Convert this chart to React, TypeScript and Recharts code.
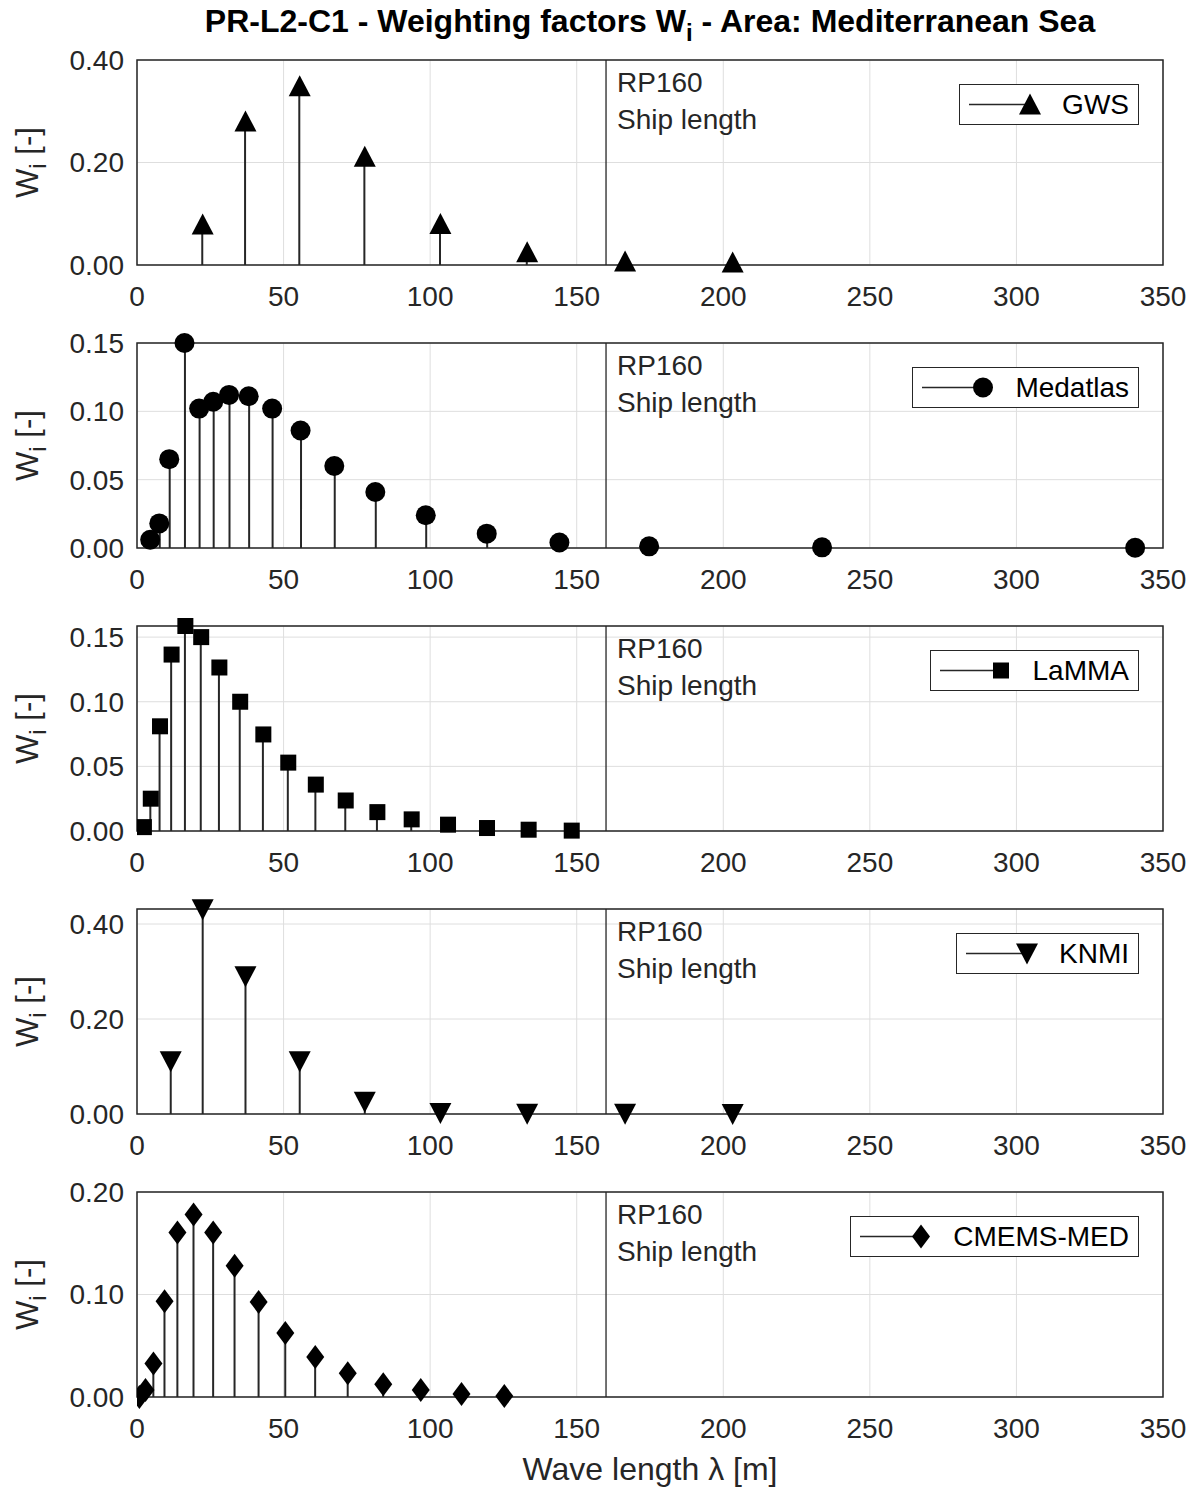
import React from "react";
import {
  ComposedChart,
  Bar,
  Scatter,
  XAxis,
  YAxis,
  CartesianGrid,
  ReferenceLine,
  ReferenceArea,
} from "recharts";

// wave lengths [m] and weighting factors per data source
const GWS_X = [22.4, 37.0, 55.5, 77.7, 103.5, 133.1, 166.5, 203.2];
const GWS_W = [0.079, 0.28, 0.349, 0.211, 0.08, 0.025, 0.007, 0.005];

const MED_X = [4.5, 7.6, 11.0, 16.2, 21.2, 26.0, 31.4, 38.1, 46.1, 55.8, 67.3, 81.3, 98.5, 119.3, 144.1, 174.7, 233.7, 340.5];
const MED_W = [0.006, 0.018, 0.065, 0.15, 0.102, 0.107, 0.112, 0.111, 0.102, 0.086, 0.06, 0.041, 0.024, 0.0105, 0.004, 0.0012, 0.0005, 0.0002];

const LAM_X = [2.35, 4.7, 7.85, 11.8, 16.5, 21.9, 28.1, 35.2, 43.1, 51.6, 61.0, 71.2, 82.0, 93.7, 106.1, 119.4, 133.6, 148.3];
const LAM_W = [0.003, 0.025, 0.081, 0.1365, 0.1586, 0.15, 0.1265, 0.1, 0.0747, 0.0529, 0.0359, 0.0236, 0.0146, 0.009, 0.0049, 0.0023, 0.001, 0.0003];

const KNMI_X = [11.5, 22.4, 37.0, 55.5, 77.7, 103.5, 133.1, 166.5, 203.2];
const KNMI_W = [0.111, 0.431, 0.29, 0.111, 0.026, 0.002, 0.0005, 0.0003, 0.0002];

const CMEMS_X = [0.8, 2.9, 5.6, 9.4, 13.8, 19.3, 26.0, 33.3, 41.5, 50.6, 60.8, 71.9, 84.0, 96.8, 110.7, 125.3];
const CMEMS_W = [0.0, 0.0068, 0.0326, 0.0935, 0.1606, 0.178, 0.1606, 0.128, 0.0928, 0.0625, 0.039, 0.0231, 0.0124, 0.0068, 0.0029, 0.001];

const X_TICKS = [0, 50, 100, 150, 200, 250, 300, 350];
const SHIP_LENGTH = 160;

const FONT = "'Liberation Sans', Arial, Helvetica, sans-serif";
const INK = "#262626";

type MarkerType = "triangle" | "circle" | "square" | "triangleDown" | "diamond";

function markerPath(type: MarkerType, cx: number, cy: number) {
  switch (type) {
    case "triangle":
      return <polygon points={`${cx},${cy - 11} ${cx - 11},${cy + 10} ${cx + 11},${cy + 10}`} fill="#000" />;
    case "triangleDown":
      return <polygon points={`${cx},${cy + 11} ${cx - 11},${cy - 10} ${cx + 11},${cy - 10}`} fill="#000" />;
    case "circle":
      return <circle cx={cx} cy={cy} r={10} fill="#000" />;
    case "square":
      return <rect x={cx - 8} y={cy - 8} width={16} height={16} fill="#000" />;
    case "diamond":
      return <polygon points={`${cx},${cy - 12} ${cx + 9},${cy} ${cx},${cy + 12} ${cx - 9},${cy}`} fill="#000" />;
  }
}

function ShipLabel(props: any) {
  const vb = props.viewBox || {};
  return (
    <g fontFamily={FONT} fontSize={28} fill={INK}>
      <text x={vb.x + 11} y={vb.y + 32}>RP160</text>
      <text x={vb.x + 11} y={vb.y + 69}>Ship length</text>
    </g>
  );
}

function YLabel(props: any) {
  const vb = props.viewBox || {};
  const cx = 38;
  const cy = vb.y + vb.height / 2;
  return (
    <text
      x={cx}
      y={cy}
      transform={`rotate(-90 ${cx} ${cy})`}
      textAnchor="middle"
      fontFamily={FONT}
      fontSize={31}
      fill={INK}
    >
      W<tspan dy={8} fontSize={24}>i</tspan>
      <tspan dy={-8}> [-]</tspan>
    </text>
  );
}

function LegendBox({ name, marker }: { name: string; marker: MarkerType }) {
  return (
    <div
      style={{
        position: "absolute",
        top: 44,
        right: 60,
        display: "flex",
        alignItems: "center",
        height: 39,
        border: `1.5px solid ${INK}`,
        background: "#fff",
        paddingLeft: 6,
        paddingRight: 9,
        fontFamily: FONT,
        fontSize: 28,
        color: "#000",
      }}
    >
      <svg width={76} height={39}>
        <line x1={3} y1={19.5} x2={64} y2={19.5} stroke={INK} strokeWidth={1.5} />
        {markerPath(marker, 64, 19.5)}
      </svg>
      <span style={{ marginLeft: 20, whiteSpace: "nowrap" }}>{name}</span>
    </div>
  );
}

interface PanelProps {
  top: number;
  xs: number[];
  ws: number[];
  name: string;
  marker: MarkerType;
  yMax: number;
  yTicks: number[];
}

const noLabel = () => "";

function Panel({ top, xs, ws, name, marker, yMax, yTicks }: PanelProps) {
  const data = xs.map((x, i) => ({ x, w: ws[i] }));
  const tickStyle = { fontSize: 28, fill: INK, fontFamily: FONT };
  const innerTick = { stroke: INK, strokeWidth: 1.3 };
  return (
    <div style={{ position: "absolute", left: 0, top: top - 20, width: 1199, height: 275 }}>
      <ComposedChart
        width={1199}
        height={275}
        data={data}
        margin={{ top: 20, right: 36, bottom: 0, left: 57 }}
      >
        <CartesianGrid stroke="#dedede" strokeWidth={1} />
        <XAxis
          dataKey="x"
          type="number"
          domain={[0, 350]}
          ticks={X_TICKS}
          interval={0}
          allowDataOverflow
          tick={tickStyle}
          tickLine={false}
          axisLine={false}
          tickSize={8}
          tickMargin={13}
          height={50}
        />
        {/* inward tick marks on the bottom and top edges */}
        <XAxis xAxisId="bIn" dataKey="x" type="number" domain={[0, 350]} ticks={X_TICKS} interval={0}
          mirror axisLine={false} tickLine={innerTick} tickSize={8} tickFormatter={noLabel} height={0} />
        <XAxis xAxisId="tIn" orientation="top" dataKey="x" type="number" domain={[0, 350]} ticks={X_TICKS} interval={0}
          mirror axisLine={false} tickLine={innerTick} tickSize={8} tickFormatter={noLabel} height={0} />
        <YAxis
          type="number"
          domain={[0, yMax]}
          ticks={yTicks}
          interval={0}
          tickFormatter={(v: number) => v.toFixed(2)}
          tick={tickStyle}
          tickLine={false}
          axisLine={false}
          tickSize={6}
          tickMargin={7}
          width={80}
          label={<YLabel />}
        />
        <YAxis yAxisId="lIn" type="number" domain={[0, yMax]} ticks={yTicks} interval={0}
          mirror axisLine={false} tickLine={innerTick} tickSize={8} tickFormatter={noLabel} width={0} />
        <YAxis yAxisId="rIn" orientation="right" type="number" domain={[0, yMax]} ticks={yTicks} interval={0}
          mirror axisLine={false} tickLine={innerTick} tickSize={8} tickFormatter={noLabel} width={0} />
        <ReferenceArea x1={0} x2={350} y1={0} y2={yMax} fill="none" stroke={INK} strokeWidth={1.5} ifOverflow="visible" />
        <ReferenceLine x={SHIP_LENGTH} stroke={INK} strokeWidth={1.3} label={<ShipLabel />} />
        <Bar dataKey="w" barSize={2} fill={INK} isAnimationActive={false} />
        <Scatter
          dataKey="w"
          isAnimationActive={false}
          shape={(p: any) => markerPath(marker, p.cx, p.cy)}
        />
      </ComposedChart>
      <LegendBox name={name} marker={marker} />
    </div>
  );
}

export default function App() {
  return (
    <div
      style={{
        position: "absolute",
        left: 0,
        top: 0,
        width: 1199,
        height: 1491,
        background: "#fff",
        fontFamily: FONT,
      }}
    >
      <div
        style={{
          position: "absolute",
          top: 3,
          left: 137,
          width: 1026,
          textAlign: "center",
          fontWeight: "bold",
          fontSize: 32,
          color: "#000",
          whiteSpace: "nowrap",
        }}
      >
        PR-L2-C1 - Weighting factors W<sub style={{ fontSize: 24, verticalAlign: -9 }}>i</sub> - Area: Mediterranean Sea
      </div>
      <Panel top={60} xs={GWS_X} ws={GWS_W} name="GWS" marker="triangle" yMax={0.4} yTicks={[0, 0.2, 0.4]} />
      <Panel top={343} xs={MED_X} ws={MED_W} name="Medatlas" marker="circle" yMax={0.15} yTicks={[0, 0.05, 0.1, 0.15]} />
      <Panel top={626} xs={LAM_X} ws={LAM_W} name="LaMMA" marker="square" yMax={0.1586} yTicks={[0, 0.05, 0.1, 0.15]} />
      <Panel top={909} xs={KNMI_X} ws={KNMI_W} name="KNMI" marker="triangleDown" yMax={0.4316} yTicks={[0, 0.2, 0.4]} />
      <Panel top={1192} xs={CMEMS_X} ws={CMEMS_W} name="CMEMS-MED" marker="diamond" yMax={0.2} yTicks={[0, 0.1, 0.2]} />
      <div
        style={{
          position: "absolute",
          top: 1451,
          left: 137,
          width: 1026,
          textAlign: "center",
          fontSize: 32,
          color: INK,
          whiteSpace: "nowrap",
        }}
      >
        Wave length λ [m]
      </div>
    </div>
  );
}
